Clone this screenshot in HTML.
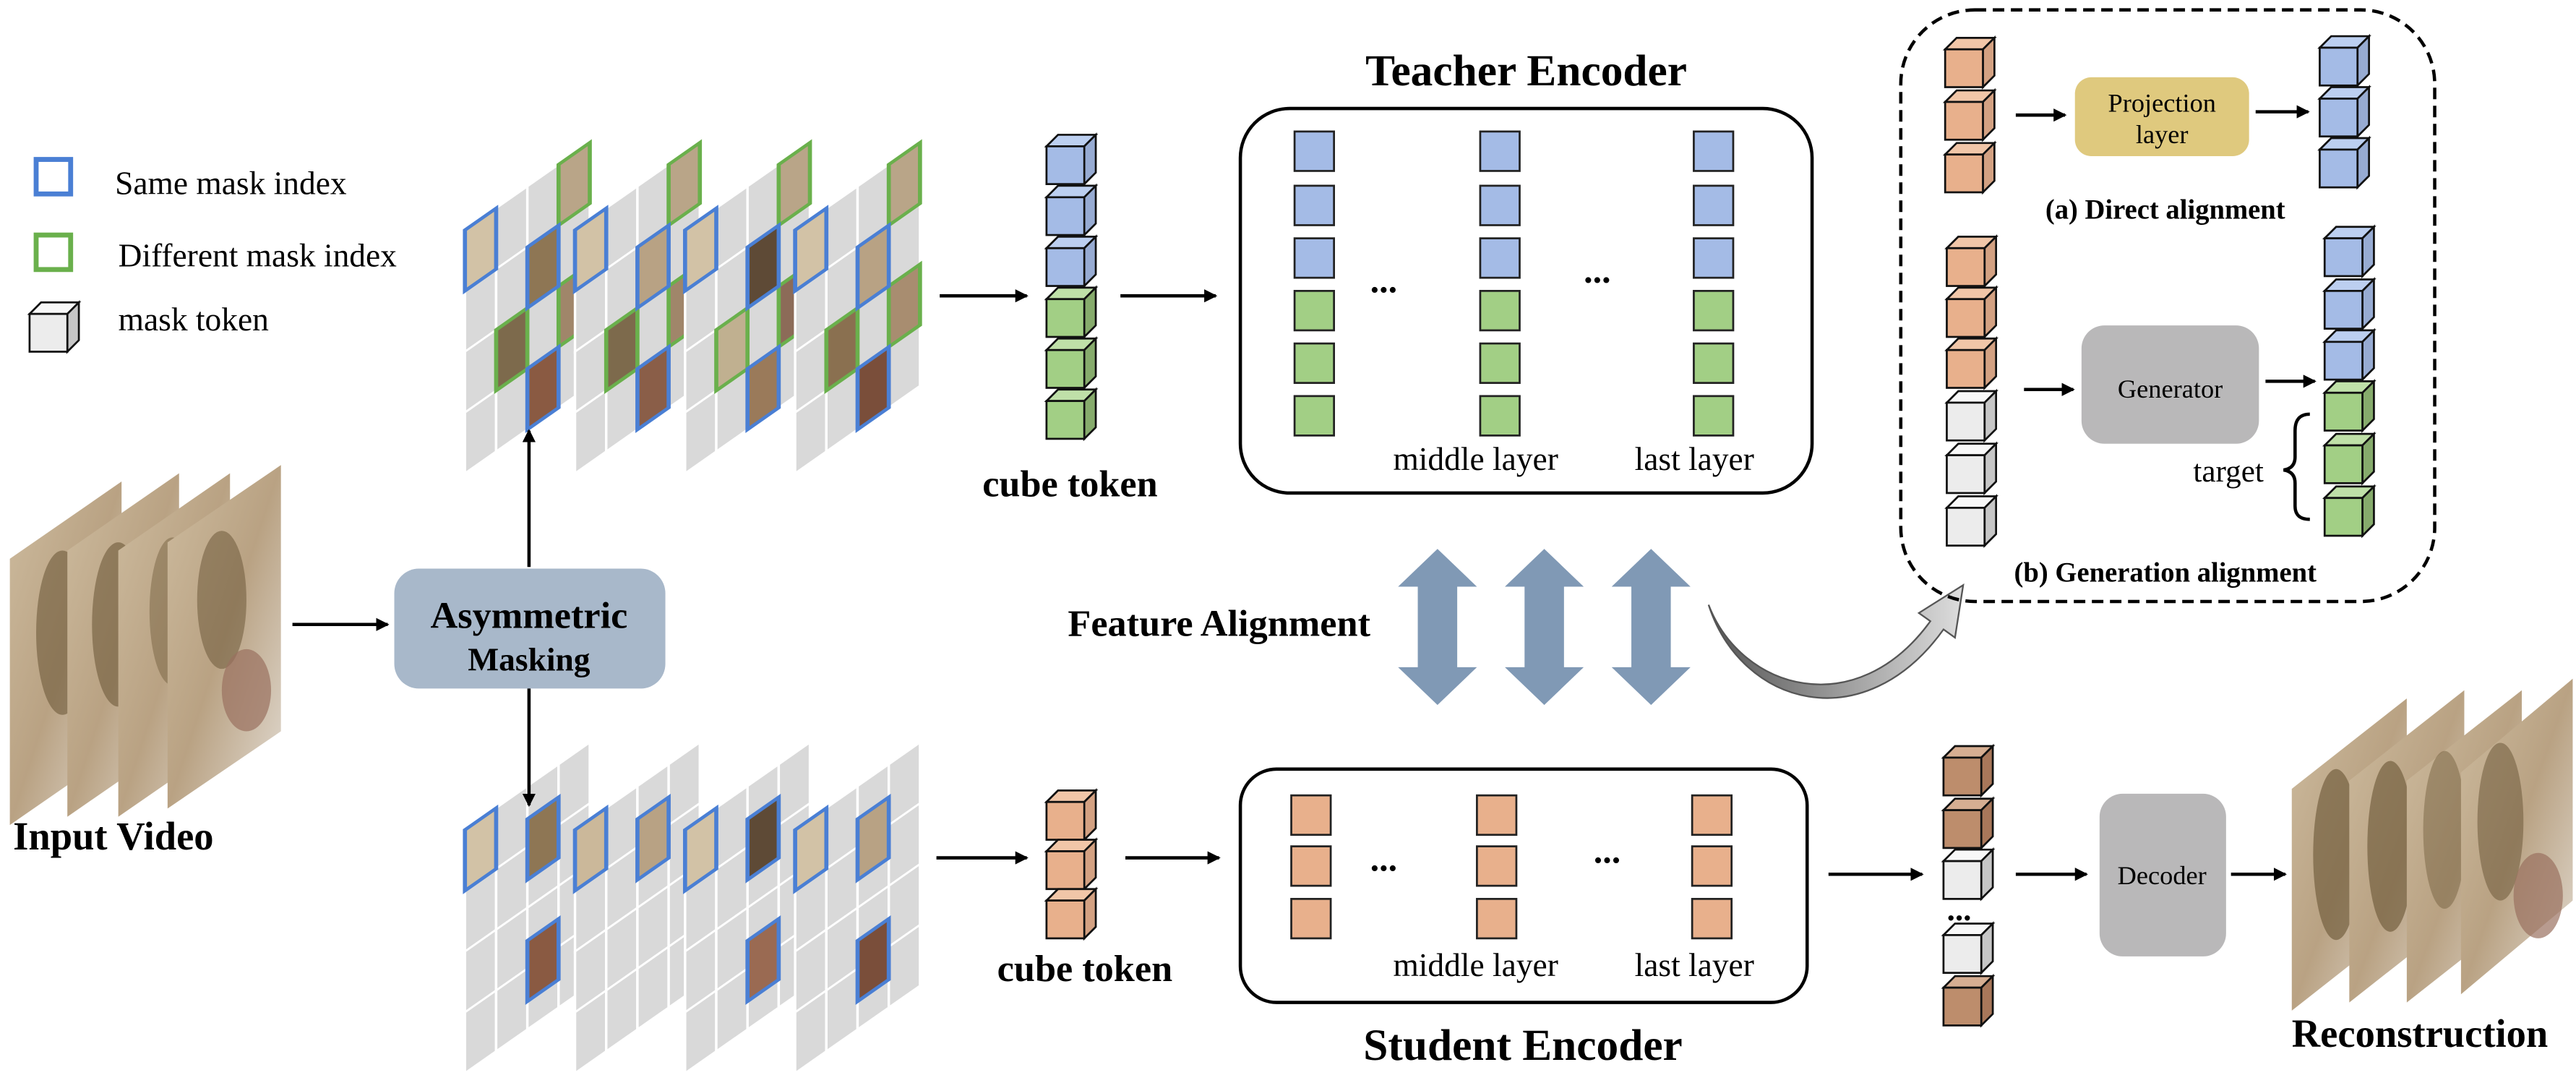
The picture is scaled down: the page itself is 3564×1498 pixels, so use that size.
<!DOCTYPE html>
<html><head><meta charset="utf-8"><style>html,body{margin:0;padding:0;background:#fff}svg{display:block}svg text{font-family:"Liberation Serif","DejaVu Serif",serif}</style></head><body>
<svg width="3564" height="1498" viewBox="0 0 1568 659" xmlns="http://www.w3.org/2000/svg" style="font-family:'Liberation Serif',serif">
<defs>
<marker id="ah" markerWidth="8" markerHeight="8" refX="7" refY="4" orient="auto" markerUnits="userSpaceOnUse"><path d="M0,0 L8,4 L0,8 Z" fill="#000"/></marker>
<g id="cb"><path d="M0,7 L7,0 L30,0 L23,7Z" fill="#bccff0" stroke="#111" stroke-width="1.2"/><path d="M23,7 L30,0 L30,23 L23,30Z" fill="#97abd2" stroke="#111" stroke-width="1.2"/><rect x="0" y="7" width="23" height="23" fill="#a4bbe6" stroke="#111" stroke-width="1.2"/></g>
<g id="cg"><path d="M0,7 L7,0 L30,0 L23,7Z" fill="#bfe0a8" stroke="#111" stroke-width="1.2"/><path d="M23,7 L30,0 L30,23 L23,30Z" fill="#86ab6c" stroke="#111" stroke-width="1.2"/><rect x="0" y="7" width="23" height="23" fill="#a2cf85" stroke="#111" stroke-width="1.2"/></g>
<g id="co"><path d="M0,7 L7,0 L30,0 L23,7Z" fill="#f1c6a8" stroke="#111" stroke-width="1.2"/><path d="M23,7 L30,0 L30,23 L23,30Z" fill="#d3a182" stroke="#111" stroke-width="1.2"/><rect x="0" y="7" width="23" height="23" fill="#e8b08c" stroke="#111" stroke-width="1.2"/></g>
<g id="cw"><path d="M0,7 L7,0 L30,0 L23,7Z" fill="#f8f8f8" stroke="#111" stroke-width="1.2"/><path d="M23,7 L30,0 L30,23 L23,30Z" fill="#c6c6c6" stroke="#111" stroke-width="1.2"/><rect x="0" y="7" width="23" height="23" fill="#ececec" stroke="#111" stroke-width="1.2"/></g>
<g id="cr"><path d="M0,7 L7,0 L30,0 L23,7Z" fill="#d6ae92" stroke="#111" stroke-width="1.2"/><path d="M23,7 L30,0 L30,23 L23,30Z" fill="#a8775a" stroke="#111" stroke-width="1.2"/><rect x="0" y="7" width="23" height="23" fill="#bd8d6c" stroke="#111" stroke-width="1.2"/></g>
<g id="grid">
 <g fill="#d9d9d9" stroke="#fff" stroke-width="1.5">
  <rect x="0" y="0" width="19" height="37"/><rect x="0" y="37" width="19" height="37"/><rect x="0" y="74" width="19" height="37"/><rect x="0" y="111" width="19" height="37"/>
  <rect x="19" y="0" width="19" height="37"/><rect x="19" y="37" width="19" height="37"/><rect x="19" y="74" width="19" height="37"/><rect x="19" y="111" width="19" height="37"/>
  <rect x="38" y="0" width="19" height="37"/><rect x="38" y="37" width="19" height="37"/><rect x="38" y="74" width="19" height="37"/><rect x="38" y="111" width="19" height="37"/>
  <rect x="57" y="0" width="19" height="37"/><rect x="57" y="37" width="19" height="37"/><rect x="57" y="74" width="19" height="37"/><rect x="57" y="111" width="19" height="37"/>
 </g>
</g>
<linearGradient id="vid" x1="0" y1="0" x2="1" y2="1"><stop offset="0" stop-color="#cdbb9e"/><stop offset="0.5" stop-color="#b9a283"/><stop offset="1" stop-color="#e2dbd2"/></linearGradient>
<linearGradient id="curv" x1="0" y1="0" x2="1" y2="0"><stop offset="0" stop-color="#555"/><stop offset="1" stop-color="#ddd"/></linearGradient>
</defs>

<!-- legend -->
<rect x="22" y="97" width="21" height="21" fill="none" stroke="#4a7fd4" stroke-width="3"/>
<text x="70" y="118" font-size="20">Same mask index</text>
<rect x="22" y="143" width="21" height="21" fill="none" stroke="#6ab04c" stroke-width="3"/>
<text x="72" y="162" font-size="20">Different mask index</text>
<use href="#cw" x="18" y="184"/>
<text x="72" y="201" font-size="20">mask token</text>

<!-- top masked frames -->
<g transform="translate(283,140) skewY(-35)"><use href="#grid"/>
 <g stroke-width="2.5"><rect x="0" y="0" width="19" height="37" fill="#d2c2a6" stroke="#4a7fd4"/><rect x="57" y="0" width="19" height="37" fill="#b9a588" stroke="#6ab04c"/><rect x="57" y="74" width="19" height="37" fill="#a0866a" stroke="#6ab04c"/><rect x="19" y="74" width="19" height="37" fill="#7d6a4c" stroke="#6ab04c"/><rect x="38" y="37" width="19" height="37" fill="#8e7654" stroke="#4a7fd4"/><rect x="38" y="111" width="19" height="37" fill="#8a5a42" stroke="#4a7fd4"/></g></g>
<g transform="translate(350,140) skewY(-35)"><use href="#grid"/>
 <g stroke-width="2.5"><rect x="0" y="0" width="19" height="37" fill="#d2c2a6" stroke="#4a7fd4"/><rect x="57" y="0" width="19" height="37" fill="#b9a588" stroke="#6ab04c"/><rect x="57" y="74" width="19" height="37" fill="#a0866a" stroke="#6ab04c"/><rect x="19" y="74" width="19" height="37" fill="#7d6a4c" stroke="#6ab04c"/><rect x="38" y="37" width="19" height="37" fill="#b8a284" stroke="#4a7fd4"/><rect x="38" y="111" width="19" height="37" fill="#8a5e48" stroke="#4a7fd4"/></g></g>
<g transform="translate(417,140) skewY(-35)"><use href="#grid"/>
 <g stroke-width="2.5"><rect x="0" y="0" width="19" height="37" fill="#d2c2a6" stroke="#4a7fd4"/><rect x="57" y="0" width="19" height="37" fill="#b9a588" stroke="#6ab04c"/><rect x="57" y="74" width="19" height="37" fill="#8c6b58" stroke="#6ab04c"/><rect x="19" y="74" width="19" height="37" fill="#c0b090" stroke="#6ab04c"/><rect x="38" y="37" width="19" height="37" fill="#5e4a36" stroke="#4a7fd4"/><rect x="38" y="111" width="19" height="37" fill="#9a7a5a" stroke="#4a7fd4"/></g></g>
<g transform="translate(484,140) skewY(-35)"><use href="#grid"/>
 <g stroke-width="2.5"><rect x="0" y="0" width="19" height="37" fill="#d2c2a6" stroke="#4a7fd4"/><rect x="57" y="0" width="19" height="37" fill="#b9a588" stroke="#6ab04c"/><rect x="57" y="74" width="19" height="37" fill="#a88d70" stroke="#6ab04c"/><rect x="19" y="74" width="19" height="37" fill="#8a7050" stroke="#6ab04c"/><rect x="38" y="37" width="19" height="37" fill="#b8a284" stroke="#4a7fd4"/><rect x="38" y="111" width="19" height="37" fill="#7a4e3a" stroke="#4a7fd4"/></g></g>

<!-- bottom masked frames -->
<g transform="translate(283,505) skewY(-35)"><use href="#grid"/>
 <g stroke-width="2.5" stroke="#4a7fd4"><rect x="0" y="0" width="19" height="37" fill="#d2c2a6"/><rect x="38" y="20" width="19" height="37" fill="#8e7654"/><rect x="38" y="94" width="19" height="37" fill="#8a5a42"/></g></g>
<g transform="translate(350,505) skewY(-35)"><use href="#grid"/>
 <g stroke-width="2.5" stroke="#4a7fd4"><rect x="0" y="0" width="19" height="37" fill="#cbb89a"/><rect x="38" y="20" width="19" height="37" fill="#b8a284"/></g></g>
<g transform="translate(417,505) skewY(-35)"><use href="#grid"/>
 <g stroke-width="2.5" stroke="#4a7fd4"><rect x="0" y="0" width="19" height="37" fill="#d2c2a6"/><rect x="38" y="20" width="19" height="37" fill="#5e4a36"/><rect x="38" y="94" width="19" height="37" fill="#9a6a52"/></g></g>
<g transform="translate(484,505) skewY(-35)"><use href="#grid"/>
 <g stroke-width="2.5" stroke="#4a7fd4"><rect x="0" y="0" width="19" height="37" fill="#d2c2a6"/><rect x="38" y="20" width="19" height="37" fill="#b8a284"/><rect x="38" y="94" width="19" height="37" fill="#7a4e3a"/></g></g>

<!-- input video -->
<g>
 <polygon points="6,340 74,293 74,455 6,502" fill="url(#vid)"/><ellipse cx="38" cy="385" rx="16" ry="50" fill="#6e5a3a" opacity="0.6"/>
 <polygon points="41,335 109,288 109,450 41,497" fill="url(#vid)"/><ellipse cx="72" cy="380" rx="16" ry="50" fill="#6e5a3a" opacity="0.6"/>
 <polygon points="72,335 140,288 140,450 72,497" fill="url(#vid)"/><ellipse cx="105" cy="372" rx="14" ry="45" fill="#6e5a3a" opacity="0.45"/>
 <polygon points="102,330 171,283 171,445 102,492" fill="url(#vid)"/><ellipse cx="135" cy="365" rx="15" ry="42" fill="#6e5a3a" opacity="0.55"/><ellipse cx="150" cy="420" rx="15" ry="25" fill="#9a7060" opacity="0.7"/>
</g>
<text x="8" y="517" font-size="24" font-weight="bold">Input Video</text>

<line x1="178" y1="380" x2="236" y2="380" stroke="#000" stroke-width="2" marker-end="url(#ah)"/>
<rect x="240" y="346" width="165" height="73" rx="15" fill="#a8b8ca"/>
<text x="322" y="382" font-size="23" font-weight="bold" text-anchor="middle">Asymmetric</text>
<text x="322" y="408" font-size="20" font-weight="bold" text-anchor="middle">Masking</text>
<line x1="322" y1="345" x2="322" y2="262" stroke="#000" stroke-width="2" marker-end="url(#ah)"/>
<line x1="322" y1="419" x2="322" y2="490" stroke="#000" stroke-width="2" marker-end="url(#ah)"/>

<!-- top cube tokens -->
<use href="#cb" x="637" y="82"/><use href="#cb" x="637" y="113"/><use href="#cb" x="637" y="144"/>
<use href="#cg" x="637" y="175"/><use href="#cg" x="637" y="206"/><use href="#cg" x="637" y="237"/>
<text x="598" y="302" font-size="23" font-weight="bold">cube token</text>
<line x1="572" y1="180" x2="625" y2="180" stroke="#000" stroke-width="2" marker-end="url(#ah)"/>
<line x1="682" y1="180" x2="740" y2="180" stroke="#000" stroke-width="2" marker-end="url(#ah)"/>

<!-- teacher -->
<text x="929" y="52" font-size="27" font-weight="bold" text-anchor="middle">Teacher Encoder</text>
<rect x="755" y="66" width="348" height="234" rx="30" fill="none" stroke="#000" stroke-width="2"/>
<g stroke="#222" stroke-width="1.2">
 <g fill="#a4bbe6"><rect x="788" y="80" width="24" height="24"/><rect x="788" y="113" width="24" height="24"/><rect x="788" y="145" width="24" height="24"/>
 <rect x="901" y="80" width="24" height="24"/><rect x="901" y="113" width="24" height="24"/><rect x="901" y="145" width="24" height="24"/>
 <rect x="1031" y="80" width="24" height="24"/><rect x="1031" y="113" width="24" height="24"/><rect x="1031" y="145" width="24" height="24"/></g>
 <g fill="#a2cf85"><rect x="788" y="177" width="24" height="24"/><rect x="788" y="209" width="24" height="24"/><rect x="788" y="241" width="24" height="24"/>
 <rect x="901" y="177" width="24" height="24"/><rect x="901" y="209" width="24" height="24"/><rect x="901" y="241" width="24" height="24"/>
 <rect x="1031" y="177" width="24" height="24"/><rect x="1031" y="209" width="24" height="24"/><rect x="1031" y="241" width="24" height="24"/></g>
</g>
<text x="834" y="178" font-size="22" font-weight="bold">...</text>
<text x="964" y="172" font-size="22" font-weight="bold">...</text>
<text x="848" y="286" font-size="20">middle layer</text>
<text x="995" y="286" font-size="20">last layer</text>

<!-- feature alignment -->
<text x="650" y="387" font-size="23" font-weight="bold">Feature Alignment</text>
<g fill="#8099b5">
 <path d="M875,334 L899,357 L887,357 L887,406 L899,406 L875,429 L851,406 L863,406 L863,357 L851,357Z"/>
 <path d="M940,334 L964,357 L952,357 L952,406 L964,406 L940,429 L916,406 L928,406 L928,357 L916,357Z"/>
 <path d="M1005,334 L1029,357 L1017,357 L1017,406 L1029,406 L1005,429 L981,406 L993,406 L993,357 L981,357Z"/>
</g>
<path d="M1040,368 C1060,420 1130,440 1175,378 L1168,373 L1195,356 L1190,388 L1183,383 C1135,450 1060,430 1040,368Z" fill="url(#curv)" stroke="#555" stroke-width="1"/>

<!-- dashed box -->
<rect x="1157" y="6" width="325" height="360" rx="45" fill="none" stroke="#000" stroke-width="2" stroke-dasharray="7,4"/>
<use href="#co" x="1184" y="23"/><use href="#co" x="1184" y="55"/><use href="#co" x="1184" y="87"/>
<line x1="1227" y1="70" x2="1257" y2="70" stroke="#000" stroke-width="2" marker-end="url(#ah)"/>
<rect x="1263" y="47" width="106" height="48" rx="10" fill="#dfc97e"/>
<text x="1316" y="68" font-size="16" text-anchor="middle">Projection</text>
<text x="1316" y="87" font-size="16" text-anchor="middle">layer</text>
<line x1="1373" y1="68" x2="1405" y2="68" stroke="#000" stroke-width="2" marker-end="url(#ah)"/>
<use href="#cb" x="1412" y="22"/><use href="#cb" x="1412" y="53"/><use href="#cb" x="1412" y="84"/>
<text x="1318" y="133" font-size="17" font-weight="bold" text-anchor="middle">(a) Direct alignment</text>
<use href="#co" x="1185" y="144"/><use href="#co" x="1185" y="175"/><use href="#co" x="1185" y="206"/>
<use href="#cw" x="1185" y="238"/><use href="#cw" x="1185" y="270"/><use href="#cw" x="1185" y="302"/>
<line x1="1232" y1="237" x2="1262" y2="237" stroke="#000" stroke-width="2" marker-end="url(#ah)"/>
<rect x="1267" y="198" width="108" height="72" rx="14" fill="#b9b8b9"/>
<text x="1321" y="242" font-size="16" text-anchor="middle">Generator</text>
<line x1="1379" y1="232" x2="1409" y2="232" stroke="#000" stroke-width="2" marker-end="url(#ah)"/>
<use href="#cb" x="1415" y="138"/><use href="#cb" x="1415" y="170"/><use href="#cb" x="1415" y="201"/>
<use href="#cg" x="1415" y="232"/><use href="#cg" x="1415" y="264"/><use href="#cg" x="1415" y="296"/>
<path d="M1406,252 Q1397,252 1397,262 L1397,278 Q1397,285 1390,286 Q1397,287 1397,294 L1397,308 Q1397,316 1406,316" fill="none" stroke="#000" stroke-width="2"/>
<text x="1335" y="293" font-size="19">target</text>
<text x="1318" y="354" font-size="17" font-weight="bold" text-anchor="middle">(b) Generation alignment</text>

<!-- student -->
<use href="#co" x="637" y="481"/><use href="#co" x="637" y="511"/><use href="#co" x="637" y="541"/>
<text x="607" y="597" font-size="23" font-weight="bold">cube token</text>
<line x1="570" y1="522" x2="625" y2="522" stroke="#000" stroke-width="2" marker-end="url(#ah)"/>
<line x1="685" y1="522" x2="742" y2="522" stroke="#000" stroke-width="2" marker-end="url(#ah)"/>
<rect x="755" y="468" width="345" height="142" rx="22" fill="none" stroke="#000" stroke-width="2"/>
<g fill="#e8b08c" stroke="#222" stroke-width="1.2">
 <rect x="786" y="484" width="24" height="24"/><rect x="786" y="515" width="24" height="24"/><rect x="786" y="547" width="24" height="24"/>
 <rect x="899" y="484" width="24" height="24"/><rect x="899" y="515" width="24" height="24"/><rect x="899" y="547" width="24" height="24"/>
 <rect x="1030" y="484" width="24" height="24"/><rect x="1030" y="515" width="24" height="24"/><rect x="1030" y="547" width="24" height="24"/>
</g>
<text x="834" y="530" font-size="22" font-weight="bold">...</text>
<text x="970" y="525" font-size="22" font-weight="bold">...</text>
<text x="848" y="594" font-size="20">middle layer</text>
<text x="995" y="594" font-size="20">last layer</text>
<text x="927" y="645" font-size="27" font-weight="bold" text-anchor="middle">Student Encoder</text>

<!-- output tokens -->
<line x1="1113" y1="532" x2="1170" y2="532" stroke="#000" stroke-width="2" marker-end="url(#ah)"/>
<use href="#cr" x="1183" y="454"/><use href="#cr" x="1183" y="486"/><use href="#cw" x="1183" y="517"/>
<text x="1185" y="560" font-size="20" font-weight="bold">...</text>
<use href="#cw" x="1183" y="562"/><use href="#cr" x="1183" y="594"/>
<line x1="1227" y1="532" x2="1270" y2="532" stroke="#000" stroke-width="2" marker-end="url(#ah)"/>
<rect x="1278" y="483" width="77" height="99" rx="14" fill="#b9b8b9"/>
<text x="1316" y="538" font-size="16" text-anchor="middle">Decoder</text>
<line x1="1358" y1="532" x2="1391" y2="532" stroke="#000" stroke-width="2" marker-end="url(#ah)"/>

<!-- reconstruction -->
<g>
 <polygon points="1395,480 1465,425 1465,560 1395,615" fill="url(#vid)"/><ellipse cx="1422" cy="520" rx="14" ry="52" fill="#6e5a3a" opacity="0.65"/>
 <polygon points="1430,475 1500,420 1500,555 1430,610" fill="url(#vid)"/><ellipse cx="1455" cy="515" rx="14" ry="52" fill="#6e5a3a" opacity="0.65"/>
 <polygon points="1465,475 1535,420 1535,555 1465,610" fill="url(#vid)"/><ellipse cx="1488" cy="505" rx="13" ry="48" fill="#6e5a3a" opacity="0.45"/>
 <polygon points="1498,470 1566,413 1566,548 1498,605" fill="url(#vid)"/><ellipse cx="1522" cy="500" rx="14" ry="48" fill="#6e5a3a" opacity="0.55"/><ellipse cx="1545" cy="545" rx="15" ry="26" fill="#9a7060" opacity="0.7"/>
</g>
<text x="1395" y="637" font-size="24" font-weight="bold">Reconstruction</text>
</svg>
</body></html>
